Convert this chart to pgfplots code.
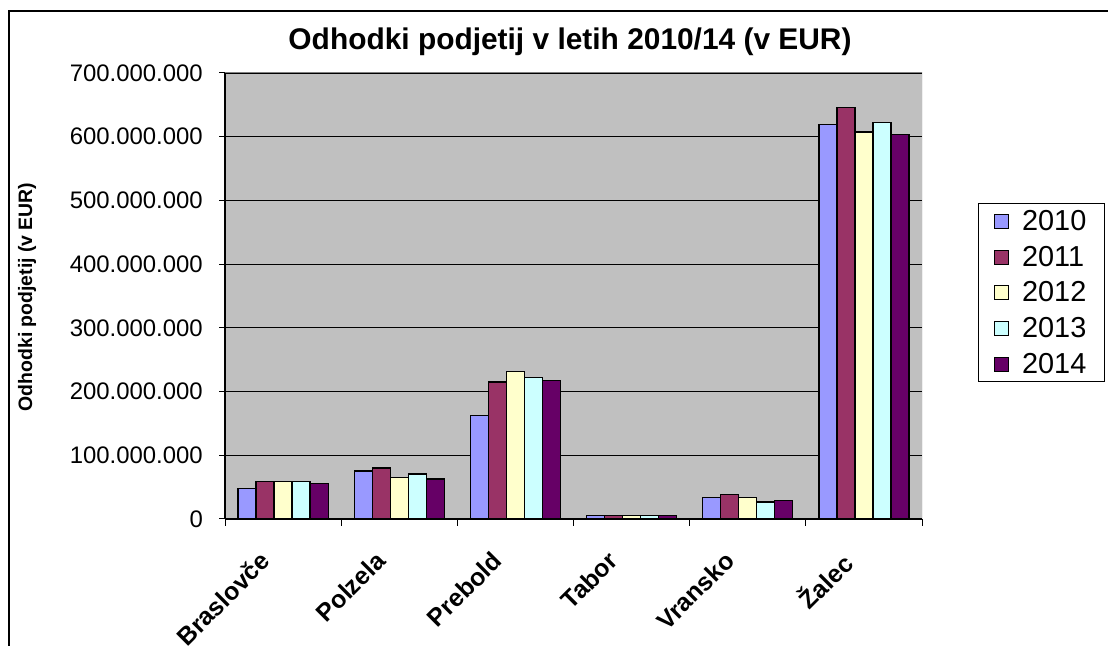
\documentclass[border=0pt]{standalone}
\usepackage{fontspec}
\setmainfont{Liberation Sans}
\usepackage{pgfplots}
\pgfplotsset{compat=1.18}
\definecolor{c2010}{HTML}{9999FF}
\definecolor{c2011}{HTML}{993366}
\definecolor{c2012}{HTML}{FFFFCC}
\definecolor{c2013}{HTML}{CCFFFF}
\definecolor{c2014}{HTML}{660066}
\definecolor{plotbg}{HTML}{C0C0C0}
\begin{document}
\begin{tikzpicture}[x=1bp,y=1bp]
\path[use as bounding box] (0,0) rectangle (1108,646);
\draw[line width=2bp] (9,0) -- (9,635) -- (1108,635);
\node[font=\bfseries\fontsize{30}{34}\selectfont] at (570,604) {Odhodki podjetij v letih 2010/14 (v EUR)};
\node[rotate=90, font=\bfseries\fontsize{19.5}{23}\selectfont] at (27,349) {Odhodki podjetij (v EUR)};
\begin{axis}[
    at={(225bp,127bp)}, anchor=south west,
    scale only axis, width=697bp, height=446bp,
    ybar=0pt, bar width=0.155,
    xmin=-0.5, xmax=5.5, ymin=0, ymax=700,
    axis lines*=left,
    axis line style={black, line width=1.2bp},
    axis background/.style={fill=plotbg},
    ymajorgrids, grid style={black, line width=1.2bp},
    ytick={0,100,...,700},
    yticklabels={0,100.000.000,200.000.000,300.000.000,400.000.000,500.000.000,600.000.000,700.000.000},
    yticklabel style={font=\fontsize{24}{28}\selectfont, inner sep=0pt, xshift=-16bp},
    xtick={0,...,5},
    xticklabels={Braslovče,Polzela,Prebold,Tabor,Vransko,Žalec},
    minor xtick={-0.5,0.5,...,5.5},
    major x tick style={draw=none},
    tick align=outside, tick style={black, line width=1bp},
    major tick length=6bp, minor tick length=7bp,
    xticklabel style={font=\bfseries\fontsize{25}{28}\selectfont, rotate=45, anchor=north east, inner sep=0pt, xshift=-35bp},
    legend cell align=left,
    legend style={at={(1.080,0.7085)}, anchor=north west, draw=black, line width=1bp,
        font=\fontsize{29}{32}\selectfont, row sep=10bp, inner xsep=16bp, inner ysep=5bp,
        /tikz/every odd column/.append style={column sep=11bp}},
    legend image code/.code={\draw[#1, line width=0.8bp] (0bp,-7bp) rectangle (14bp,7bp);},
    every axis plot/.append style={draw=black, line width=1.2bp},
]
\addplot[fill=c2010] coordinates {(0,48.2) (1,75.4) (2,163) (3,5) (4,34) (5,619.6)};
\addlegendentry{2010}
\addplot[fill=c2011] coordinates {(0,58.6) (1,80) (2,215) (3,5) (4,38.7) (5,645.7)};
\addlegendentry{2011}
\addplot[fill=c2012] coordinates {(0,58.6) (1,65.4) (2,232) (3,5) (4,33.5) (5,607.5)};
\addlegendentry{2012}
\addplot[fill=c2013] coordinates {(0,58.6) (1,70.6) (2,222) (3,5) (4,26.7) (5,622)};
\addlegendentry{2013}
\addplot[fill=c2014] coordinates {(0,56) (1,62.8) (2,217) (3,5) (4,29.3) (5,604)};
\addlegendentry{2014}
\draw[gray, line width=1bp] (rel axis cs:0,1) -- (rel axis cs:1,1) -- (rel axis cs:1,0);
\end{axis}
\end{tikzpicture}
\end{document}
